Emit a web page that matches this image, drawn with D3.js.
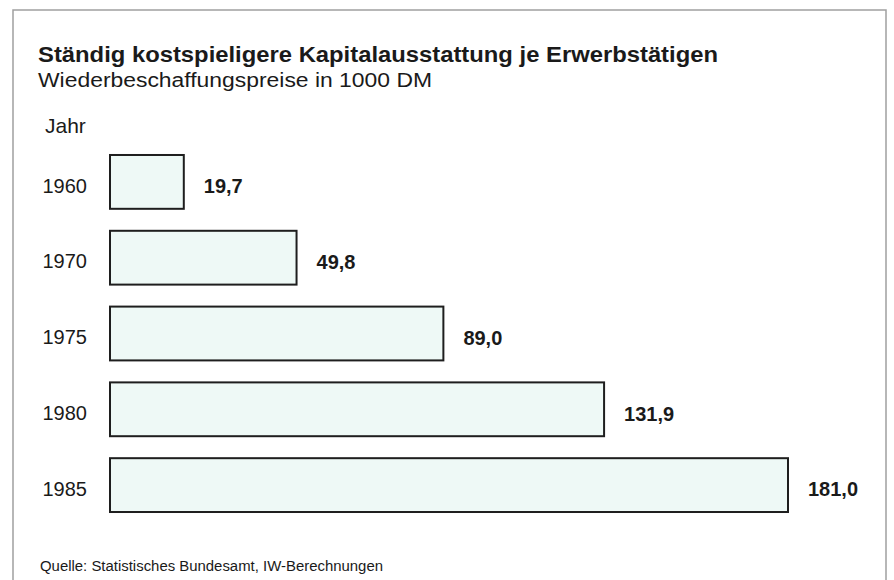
<!DOCTYPE html>
<html>
<head>
<meta charset="utf-8">
<script src="https://cdn.jsdelivr.net/npm/d3@7"></script>
<style>
  body { margin: 0; background: #fff; }
  svg text { font-family: "Liberation Sans", Arial, sans-serif; fill: #1a1a1a; }
</style>
</head>
<body>
<svg id="chart" width="894" height="580"></svg>
<script>
'use strict';

// Data
const years = ['1960', '1970', '1975', '1980', '1985'];
const values = [19.7, 49.8, 89.0, 131.9, 181.0];
const valueLabels = ['19,7', '49,8', '89,0', '131,9', '181,0'];

const svg = d3.select('#chart');

// frame
svg.append('path')
  .attr('d', 'M13,580 V10 H886 V580')
  .attr('fill', 'none')
  .attr('stroke', '#a0a0a0')
  .attr('stroke-width', 1.5);

// titles
svg.append('text').attr('x', 38).attr('y', 62)
  .attr('font-size', 22).attr('font-weight', 'bold')
  .attr('textLength', 680).attr('lengthAdjust', 'spacingAndGlyphs')
  .text('Ständig kostspieligere Kapitalausstattung je Erwerbstätigen');
svg.append('text').attr('x', 38).attr('y', 87)
  .attr('font-size', 20).attr('fill', '#2a2a2a')
  .attr('textLength', 394).attr('lengthAdjust', 'spacingAndGlyphs')
  .text('Wiederbeschaffungspreise in 1000 DM');
svg.append('text').attr('x', 45).attr('y', 133)
  .attr('font-size', 21).attr('fill', '#2a2a2a')
  .text('Jahr');

// scales
const x = d3.scaleLinear().domain([0, 181]).range([110, 788]);
const y = d3.scaleBand().domain(years).range([144, 523]).paddingInner(0.29).paddingOuter(0.145);

const rows = svg.append('g').selectAll('g')
  .data(years.map((yr, i) => ({ yr, v: values[i], label: valueLabels[i] })))
  .join('g');

rows.append('rect')
  .attr('x', x(0))
  .attr('y', d => y(d.yr))
  .attr('width', d => x(d.v) - x(0))
  .attr('height', y.bandwidth())
  .attr('fill', '#eef9f6')
  .attr('stroke', '#1e1e1e')
  .attr('stroke-width', 2);

rows.append('text')
  .attr('x', 42.5)
  .attr('y', d => y(d.yr) + y.bandwidth() / 2 + 3.5)
  .attr('dy', '0.36em')
  .attr('font-size', 20)
  .attr('fill', '#2a2a2a')
  .text(d => d.yr);

rows.append('text')
  .attr('x', d => x(d.v) + 20)
  .attr('y', d => y(d.yr) + y.bandwidth() / 2 + 4)
  .attr('dy', '0.36em')
  .attr('font-size', 20)
  .attr('font-weight', 'bold')
  .text(d => d.label);

// source
svg.append('text').attr('x', 40).attr('y', 571)
  .attr('font-size', 14).attr('fill', '#555')
  .attr('textLength', 343).attr('lengthAdjust', 'spacingAndGlyphs')
  .text('Quelle: Statistisches Bundesamt, IW-Berechnungen');
</script>
</body>
</html>
